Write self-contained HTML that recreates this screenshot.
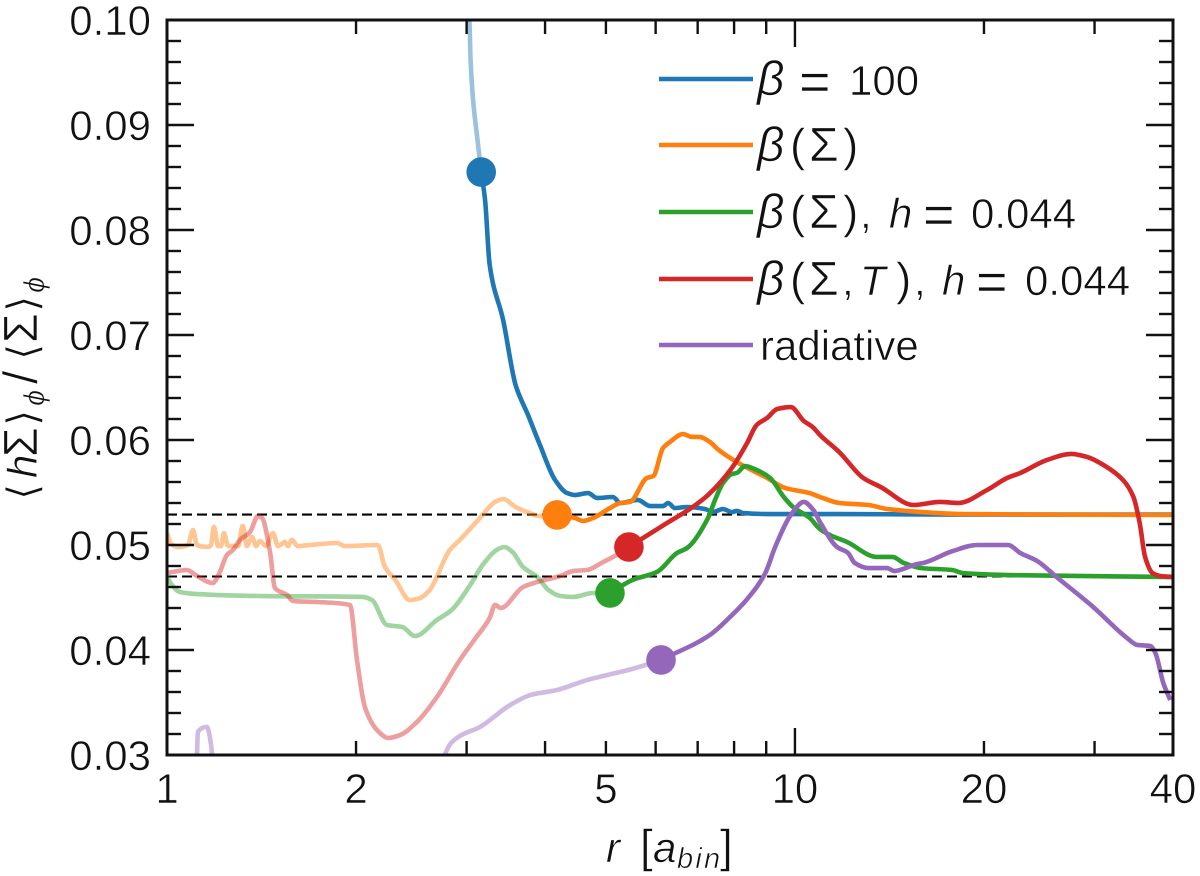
<!DOCTYPE html>
<html>
<head>
<meta charset="utf-8">
<title>Scale height ratio versus radius</title>
<style>
html,body{margin:0;padding:0;background:#fff;}
svg{display:block;}
text{font-family:"Liberation Sans","DejaVu Sans",sans-serif;fill:#111;stroke:#fff;stroke-width:0.6px;font-size:42px;}
.it{font-style:italic;}
.dj{font-family:"DejaVu Sans",sans-serif;}
.sub{font-size:29px;}
.big{font-size:48px;}
.par{font-size:46px;}
.eq{font-size:54px;}
</style>
</head>
<body>
<svg id="chart" xmlns="http://www.w3.org/2000/svg" width="1200" height="876" viewBox="0 0 1200 876">
  <defs><clipPath id="plot-clip"><rect x="167" y="20" width="1006" height="735"></rect></clipPath></defs>
  <g id="guides" clip-path="url(#plot-clip)"></g>
  <g id="series"></g>
  <g id="axes"></g>
  <g id="labels"></g>

  <g>
    <line x1="659" x2="753" y1="79" y2="79" stroke="#1f77b4" stroke-width="4.6"/>
    <line x1="659" x2="753" y1="145" y2="145" stroke="#ff7f0e" stroke-width="4.6"/>
    <line x1="659" x2="753" y1="212" y2="212" stroke="#2ca02c" stroke-width="4.6"/>
    <line x1="659" x2="753" y1="279" y2="279" stroke="#d62728" stroke-width="4.6"/>
    <line x1="659" x2="753" y1="345" y2="345" stroke="#9467bd" stroke-width="4.6"/>
    <text y="95"><tspan class="it big" x="757">β</tspan><tspan class="eq" x="799" dy="5">=</tspan><tspan x="849" dy="-5">100</tspan></text>
    <text y="161"><tspan class="it big" x="757">β</tspan><tspan class="par" x="790">(</tspan><tspan class="big" x="809">Σ</tspan><tspan class="par" x="843">)</tspan></text>
    <text y="228"><tspan class="it big" x="757">β</tspan><tspan class="par" x="790">(</tspan><tspan class="big" x="809">Σ</tspan><tspan class="par" x="843">)</tspan><tspan x="860">,</tspan><tspan class="it" x="889">h</tspan><tspan class="eq" x="923" dy="5">=</tspan><tspan x="971" dy="-5">0.044</tspan></text>
    <text y="295"><tspan class="it big" x="757">β</tspan><tspan class="par" x="790">(</tspan><tspan class="big" x="809">Σ</tspan><tspan x="842">,</tspan><tspan class="it" x="860">T</tspan><tspan class="par" x="896">)</tspan><tspan x="914">,</tspan><tspan class="it" x="942">h</tspan><tspan class="eq" x="976" dy="5">=</tspan><tspan x="1025" dy="-5">0.044</tspan></text>
    <text x="760" y="360">radiative</text>
  </g>

  <text y="862"><tspan class="it" x="606">r</tspan><tspan class="par" x="640">[</tspan><tspan class="it" x="653">a</tspan><tspan class="it sub" x="677" dy="6" letter-spacing="2.2">bin</tspan><tspan class="par" x="720" dy="-6">]</tspan></text>

  <text transform="translate(37,497) rotate(-90)" y="0"><tspan class="dj" x="-3">⟨</tspan><tspan class="it" x="19">h</tspan><tspan class="big" x="40">Σ</tspan><tspan class="dj" x="71">⟩</tspan><tspan class="it sub" x="91" dy="7">ϕ</tspan><tspan class="big" x="113" dy="-7">/</tspan><tspan class="dj" x="137">⟨</tspan><tspan class="big" x="154">Σ</tspan><tspan class="dj" x="185">⟩</tspan><tspan class="it sub" x="204" dy="7">ϕ</tspan></text>
</svg>

<script>
// Reference levels
const refLevels = [0.0529, 0.0470];

// Axis ticks
const xMajorTicks = [1, 10];
const xMinorTicks = [2, 3, 4, 5, 6, 7, 8, 9, 20, 30];
const xTickLabels = [1, 2, 5, 10, 20, 40];
const yTickLabels = ["0.03", "0.04", "0.05", "0.06", "0.07", "0.08", "0.09", "0.10"];

// beta = 100
const beta100R = [3.005,3.03,3.044,3.072,3.117,3.21,3.265,3.43,3.59,3.758,3.926,4.15,4.336,4.465,4.683,4.84,5.13,5.27,5.62,5.88,6.165,6.28,6.44,6.733,7.19,7.405,7.68,7.935,8.08,8.27,9.03,9.93,11.76,18.3,40];
const beta100V = [0.10095,0.1,0.09619,0.09238,0.08895,0.08286,0.07667,0.07143,0.06524,0.06238,0.05952,0.05619,0.05495,0.05476,0.05495,0.05448,0.05457,0.054,0.05429,0.05371,0.05371,0.054,0.05352,0.05362,0.05343,0.05314,0.05343,0.05314,0.05324,0.05305,0.05295,0.05295,0.05295,0.0529,0.0529];

// beta(Sigma)
const betaSigmaR = [1,1.015,1.041,1.08,1.1,1.116,1.162,1.175,1.188,1.206,1.219,1.232,1.251,1.298,1.32,1.341,1.366,1.386,1.406,1.438,1.475,1.502,1.542,1.558,1.58,1.616,1.689,1.865,1.92,2.166,2.224,2.31,2.436,2.53,2.62,2.82,2.927,3.15,3.33,3.43,3.59,3.744,3.926,4.18,4.465,4.6,4.77,5.075,5.27,5.46,5.81,5.95,6.165,6.325,6.63,6.85,7.05,7.32,7.53,8.08,9.03,9.64,10.54,11.07,11.76,13.1,14.02,15.9,18.3,40];
const betaSigmaV = [0.05114,0.0501,0.04981,0.05,0.05143,0.05,0.04981,0.05,0.05171,0.0499,0.0499,0.05114,0.0499,0.0499,0.05181,0.0499,0.05076,0.0499,0.05038,0.0499,0.05114,0.0499,0.05029,0.0499,0.05048,0.0499,0.05,0.05019,0.0499,0.05,0.0479,0.04667,0.04476,0.04495,0.04571,0.04952,0.05048,0.05257,0.0541,0.05438,0.05362,0.05314,0.05276,0.05286,0.05257,0.05229,0.05257,0.05352,0.054,0.0541,0.05638,0.05657,0.05924,0.05981,0.06057,0.06029,0.06029,0.05981,0.05914,0.0579,0.05638,0.05543,0.05495,0.05448,0.054,0.05381,0.05343,0.05314,0.05295,0.05286];

// beta(Sigma), h = 0.044
const betaSigmaHR = [1,1.018,1.048,1.116,1.422,2.05,2.12,2.24,2.37,2.483,2.69,2.84,3.04,3.19,3.37,3.445,3.55,3.69,3.89,4.05,4.23,4.43,4.77,5.075,5.51,6.03,6.49,6.73,7.27,7.46,7.68,7.935,8.08,8.33,8.69,9.13,9.6,9.93,10.56,10.96,11.37,12.1,13.5,14.3,14.9,15.9,17.8,18.5,21.77,40];
const betaSigmaHV = [0.047,0.04619,0.04552,0.04533,0.04514,0.04505,0.04476,0.04238,0.04219,0.04133,0.04286,0.04381,0.04619,0.04819,0.04962,0.04981,0.04933,0.0479,0.04695,0.04571,0.04514,0.04505,0.04543,0.04543,0.04667,0.04743,0.04924,0.04971,0.05257,0.05429,0.0559,0.05676,0.05686,0.05752,0.05714,0.05638,0.05457,0.05362,0.05257,0.05152,0.05095,0.05029,0.04886,0.04886,0.04829,0.0478,0.04762,0.04733,0.04714,0.04695];

// beta(Sigma, T), h = 0.044
const betaSigmaTR = [1,1.076,1.116,1.183,1.21,1.246,1.273,1.307,1.356,1.396,1.417,1.459,1.486,1.553,1.587,1.733,1.956,2.007,2.066,2.16,2.25,2.35,2.5,2.69,2.927,3.11,3.265,3.33,3.4,3.69,3.89,4.23,4.43,4.666,4.95,5.2,5.44,6.257,6.8,7.27,7.935,8.39,8.69,9.03,9.37,9.85,10.33,10.67,10.96,11.76,12.85,13.7,15.45,17,18.2,20.23,21.77,22.85,25.21,27.55,29.2,31,33.3,34.6,35.4,36.11,37.1,38.2,40];
const betaSigmaTV = [0.04733,0.04762,0.04705,0.04638,0.04724,0.04905,0.04952,0.05048,0.05124,0.05276,0.05257,0.04933,0.0459,0.04524,0.04467,0.04457,0.04429,0.03905,0.03457,0.03238,0.03162,0.0319,0.03314,0.03552,0.03905,0.04124,0.04305,0.04429,0.044,0.046,0.04648,0.04705,0.04752,0.04762,0.04838,0.04905,0.04981,0.0521,0.05343,0.05476,0.05733,0.05971,0.06143,0.0621,0.06295,0.06314,0.06181,0.06124,0.06048,0.05886,0.05638,0.05552,0.05381,0.0541,0.054,0.05524,0.05638,0.05686,0.0581,0.05867,0.05838,0.05762,0.05619,0.05457,0.0521,0.04886,0.04733,0.04705,0.04695];

// radiative
const radiativeR = [1.105,1.116,1.12,1.158,1.17,1.18,1.188,2.74,2.77,2.91,3.15,3.52,3.79,4.18,4.666,5.51,6.12,7.32,7.88,8.42,8.97,9.3,9.85,10.33,10.7,10.96,11.67,12.15,12.45,13.1,14.02,14.4,15.65,16,17.85,19.5,21.85,22.85,24.3,26.1,29.85,33.8,35.1,36.8,37.5,38.6,39.6];
const radiativeV = [0.0267,0.03,0.0322,0.03267,0.03171,0.03,0.0267,0.0267,0.03,0.03171,0.03267,0.03476,0.03571,0.03619,0.03714,0.0382,0.03905,0.04143,0.04314,0.04495,0.04733,0.04981,0.05286,0.0541,0.05333,0.05219,0.04981,0.04924,0.04829,0.0478,0.0478,0.04752,0.04819,0.04829,0.04943,0.05,0.05,0.04924,0.04848,0.04695,0.0441,0.04114,0.04048,0.04038,0.03971,0.03686,0.03524];

// Marker positions (radius, value), one per series
const markerR = [3.165, 4.18, 5.075, 5.44, 6.12];
const markerV = [0.08552, 0.05286, 0.04543, 0.04981, 0.03905];

const seriesColors = ["#1f77b4", "#ff7f0e", "#2ca02c", "#d62728", "#9467bd"];
const seriesR = [beta100R, betaSigmaR, betaSigmaHR, betaSigmaTR, radiativeR];
const seriesV = [beta100V, betaSigmaV, betaSigmaHV, betaSigmaTV, radiativeV];

const NS = "http://www.w3.org/2000/svg";
const xScale = r => 167 + 1006 * Math.log10(r) / Math.log10(40);
const yScale = v => 755 - (v - 0.03) * 10500;

function mk(tag, attrs, parent) {
  const el = document.createElementNS(NS, tag);
  for (const k in attrs) el.setAttribute(k, attrs[k]);
  parent.appendChild(el);
  return el;
}

// Monotone cubic interpolation through the data points (no overshoot).
function pathOf(pts) {
  const X = pts.map(p => xScale(p[0])), Y = pts.map(p => yScale(p[1])), n = X.length;
  if (n < 2) return "";
  const S = [];
  for (let i = 0; i < n - 1; i++) S.push((Y[i + 1] - Y[i]) / Math.max(X[i + 1] - X[i], 1e-6));
  const T = [S[0]];
  for (let i = 1; i < n - 1; i++) {
    if (S[i - 1] * S[i] <= 0) { T.push(0); continue; }
    const h0 = X[i] - X[i - 1], h1 = X[i + 1] - X[i];
    T.push(3 * (h0 + h1) / ((2 * h1 + h0) / S[i - 1] + (h1 + 2 * h0) / S[i]));
  }
  T.push(S[n - 2]);
  let d = "M" + X[0].toFixed(2) + " " + Y[0].toFixed(2);
  for (let i = 0; i < n - 1; i++) {
    const h = (X[i + 1] - X[i]) / 3;
    d += "C" + (X[i] + h).toFixed(2) + " " + (Y[i] + T[i] * h).toFixed(2) + " " +
         (X[i + 1] - h).toFixed(2) + " " + (Y[i + 1] - T[i + 1] * h).toFixed(2) + " " +
         X[i + 1].toFixed(2) + " " + Y[i + 1].toFixed(2);
  }
  return d;
}

const guides = document.getElementById("guides");
refLevels.forEach(v => {
  const el = mk("line", {x1: 167, x2: 1173, y1: yScale(v), y2: yScale(v), stroke: "#000", "stroke-width": 2.1, "stroke-dasharray": "10 5"}, guides);
  
  
});

const seriesG = document.getElementById("series");
seriesColors.forEach((color, i) => {
  const rs = seriesR[i], vs = seriesV[i], mr = markerR[i], mv = markerV[i];
  const pts = rs.map((r, j) => [r, vs[j]]);
  const inner = pts.filter(p => p[0] < mr).concat([[mr, mv]]);
  const outer = [[mr, mv]].concat(pts.filter(p => p[0] > mr));
  const common = {fill: "none", stroke: color, "stroke-width": 4.6, "stroke-linejoin": "round", "stroke-linecap": "butt", "clip-path": "url(#plot-clip)"};

  const faded = mk("path", Object.assign({d: pathOf(inner), opacity: 0.45}, common), seriesG);
  
  

  const solid = mk("path", Object.assign({d: pathOf(outer)}, common), seriesG);
  
  

  const dot = mk("circle", {cx: xScale(mr), cy: yScale(mv), r: 14.8, fill: color}, seriesG);
  
  
});

const axes = document.getElementById("axes");
function tick(x1, y1, x2, y2) {
  const el = mk("line", {x1: x1, y1: y1, x2: x2, y2: y2, stroke: "#111", "stroke-width": 2.4}, axes);
  
  
}
xMajorTicks.concat(xMinorTicks).forEach(r => {
  const x = xScale(r), len = xMajorTicks.includes(r) ? 27 : 14;
  tick(x, 755, x, 755 - len);
  tick(x, 20, x, 20 + len);
});
for (let k = 0; k <= 35; k++) {
  const v = 0.03 + k * 0.002, y = yScale(v), len = k % 5 === 0 ? 27 : 14;
  tick(167, y, 167 + len, y);
  tick(1173, y, 1173 - len, y);
}
const frame = mk("rect", {x: 167, y: 20, width: 1006, height: 735, fill: "none", stroke: "#111", "stroke-width": 3}, axes);



const labels = document.getElementById("labels");
xTickLabels.forEach(r => {
  const el = mk("text", {x: xScale(r), y: 803, "text-anchor": "middle"}, labels);
  
  
  el.textContent = r;
});
yTickLabels.forEach(t => {
  const el = mk("text", {x: 151, y: yScale(parseFloat(t)) + 15, "text-anchor": "end"}, labels);
  
  
  el.textContent = t;
});
</script>
</body>
</html>
